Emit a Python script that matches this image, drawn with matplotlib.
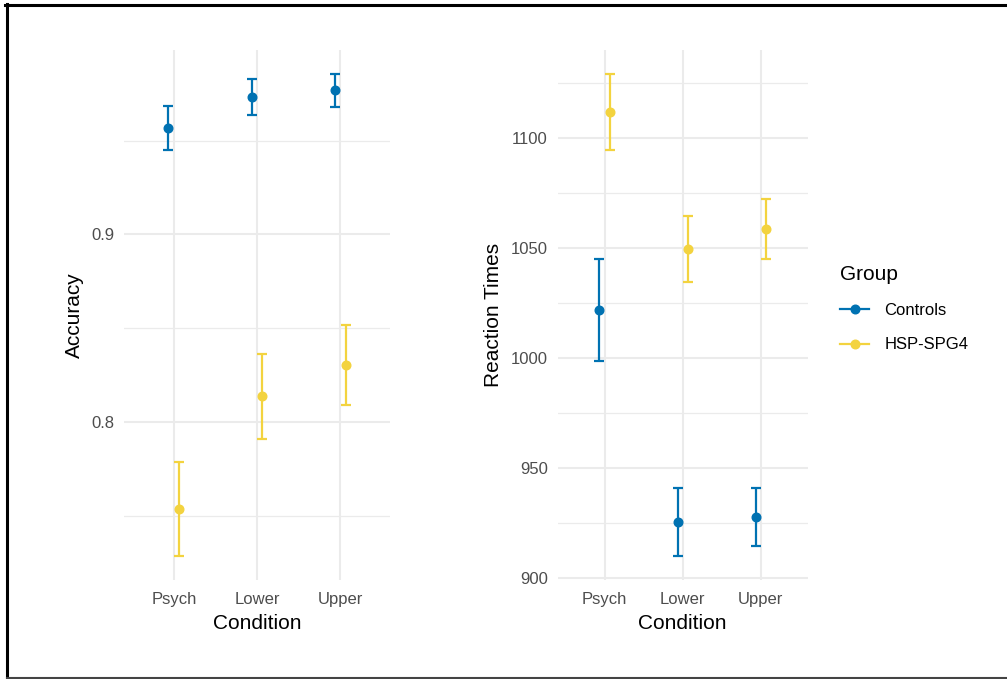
import matplotlib
matplotlib.use("Agg")
import matplotlib.pyplot as plt
from matplotlib.lines import Line2D
import numpy as np

plt.rcParams['font.family'] = ['Liberation Sans', 'DejaVu Sans']

conditions = ["Psych", "Lower", "Upper"]
groups = ["Controls", "HSP-SPG4"]
colors = {"Controls": "#0072B2", "HSP-SPG4": "#F3D33F"}

acc_mean = {"Controls": [0.9568, 0.9734, 0.9768], "HSP-SPG4": [0.7537, 0.8138, 0.8303]}
acc_lo = {"Controls": [0.9450, 0.9638, 0.9679], "HSP-SPG4": [0.7287, 0.7910, 0.8090]}
acc_hi = {"Controls": [0.9686, 0.9826, 0.9856], "HSP-SPG4": [0.7786, 0.8362, 0.8520]}

rt_mean = {"Controls": [1021.7, 925.3, 927.6], "HSP-SPG4": [1111.8, 1049.3, 1058.4]}
rt_lo = {"Controls": [998.5, 910.0, 914.4], "HSP-SPG4": [1094.5, 1034.3, 1044.9]}
rt_hi = {"Controls": [1044.9, 940.9, 940.9], "HSP-SPG4": [1129.3, 1064.4, 1072.0]}

W, H = 1007, 679
fig = plt.figure(figsize=(W / 100, H / 100), dpi=100)

def ax_rect(x0, x1, y0, y1):
    return [x0 / W, 1 - y1 / H, (x1 - x0) / W, (y1 - y0) / H]

ax1 = fig.add_axes(ax_rect(124, 390, 50, 580))
ax2 = fig.add_axes(ax_rect(557.7, 807.7, 50, 580))

offsets = {"Controls": -0.065, "HSP-SPG4": 0.065}
xpos = np.arange(1, len(conditions) + 1)

def draw(ax, mean, lo, hi, ylim, major, minor, ylabel):
    for g in groups:
        m = np.array(mean[g]); l = np.array(lo[g]); h = np.array(hi[g])
        ax.errorbar(xpos + offsets[g], m, yerr=[m - l, h - m], fmt='o',
                    color=colors[g], ms=6.2, elinewidth=1.6, capsize=3.8,
                    capthick=1.6, zorder=3)
    ax.set_xlim(0.4, 3.6)
    ax.set_ylim(*ylim)
    ax.set_xticks(xpos)
    ax.set_xticklabels(conditions)
    ax.set_yticks(major)
    ax.set_yticks(minor, minor=True)
    for t in major:
        ax.axhline(t, color="#EBEBEB", lw=1.5, zorder=0)
    for t in minor:
        ax.axhline(t, color="#EBEBEB", lw=0.9, zorder=0)
    for x in xpos:
        ax.axvline(x, color="#EBEBEB", lw=1.5, zorder=0)
    for s in ax.spines.values():
        s.set_visible(False)
    ax.tick_params(axis='both', which='both', length=0, labelsize=12,
                   labelcolor="#4D4D4D")
    ax.tick_params(axis='x', pad=8.3)
    ax.tick_params(axis='y', pad=7)
    ax.set_xlabel("Condition", fontsize=15, labelpad=5.5)
    ax.set_ylabel(ylabel, fontsize=15, labelpad=5.5)

draw(ax1, acc_mean, acc_lo, acc_hi, (0.716, 0.9982), [0.8, 0.9],
     [0.75, 0.85, 0.95], "Accuracy")
ax1.set_yticklabels(["0.8", "0.9"])
draw(ax2, rt_mean, rt_lo, rt_hi, (898.9, 1140.0), [900, 950, 1000, 1050, 1100],
     [925, 975, 1025, 1075, 1125], "Reaction Times")

handles = [Line2D([0], [0], color=colors[g], marker='o', ms=6.2, lw=1.6) for g in groups]
leg = fig.legend(handles, groups, title="Group", loc="upper left",
                 bbox_to_anchor=(825 / W, 1 - 250 / H), frameon=False,
                 fontsize=12, title_fontsize=15, handlelength=1.75,
                 labelspacing=1.15, handletextpad=0.9)
leg._legend_box.align = "left"

# screenshot frame
fig.add_artist(Line2D([5 / W, 1], [1 - 5 / H, 1 - 5 / H], color="black", lw=2.2,
                      transform=fig.transFigure))
fig.add_artist(Line2D([7 / W, 7 / W], [0, 1 - 4 / H], color="black", lw=2.2,
                      transform=fig.transFigure))
fig.add_artist(Line2D([7 / W, 1], [1 - 678 / H, 1 - 678 / H], color="#444444", lw=1.5,
                      transform=fig.transFigure))

fig.savefig("out.png", dpi=100)
